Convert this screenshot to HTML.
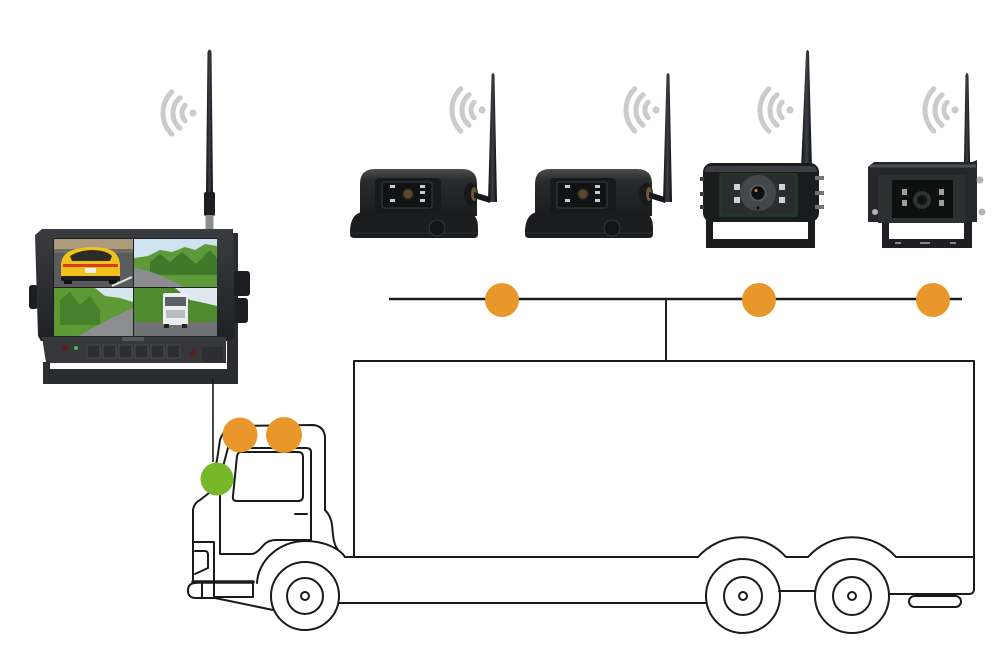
<!DOCTYPE html>
<html><head><meta charset="utf-8">
<style>
html,body{margin:0;padding:0;background:#fff;width:1000px;height:666px;overflow:hidden;}
svg{display:block;}
</style></head>
<body>
<svg width="1000" height="666" viewBox="0 0 1000 666" xmlns="http://www.w3.org/2000/svg">
<defs>
 <linearGradient id="ant" x1="0" x2="1" y1="0" y2="0">
  <stop offset="0" stop-color="#0c0d0f"/><stop offset="0.5" stop-color="#3c4046"/><stop offset="1" stop-color="#0c0d0f"/>
 </linearGradient>
 <linearGradient id="body" x1="0" x2="0" y1="0" y2="1">
  <stop offset="0" stop-color="#3a3c40"/><stop offset="1" stop-color="#1f2023"/>
 </linearGradient>
 <linearGradient id="head" x1="0" x2="0" y1="0" y2="1">
  <stop offset="0" stop-color="#4a4c4f"/><stop offset="0.25" stop-color="#2a2b2d"/><stop offset="1" stop-color="#1b1c1e"/>
 </linearGradient>
 <g id="wifi" fill="none" stroke="#cbcbcb" stroke-width="5" stroke-linecap="round">
  <circle cx="0" cy="0" r="3.6" fill="#cbcbcb" stroke="none"/>
  <path d="M-7.8,-7.8 A11,11 0 0 0 -7.8,7.8"/>
  <path d="M-12.9,-15.3 A20,20 0 0 0 -12.9,15.3"/>
  <path d="M-21.2,-21.2 A30,30 0 0 0 -21.2,21.2"/>
 </g>
 <g id="cam1">
  <path d="M350,230 Q351,214 362,212 H468 Q478,214 478,228 V234 Q478,238 474,238 H354 Q350,238 350,234 Z" fill="#1c1d1f"/>
  <path d="M350,233 H478" stroke="#2e2f32" stroke-width="1"/>
  <path d="M360,216 V184 Q360,169 375,169 H462 Q477,169 477,184 V216 Z" fill="url(#head)"/>
  <rect x="375" y="178" width="66" height="36" rx="4" fill="#18191a"/>
  <rect x="382" y="182" width="50" height="26" rx="2" fill="#111213" stroke="#3c3d3f" stroke-width="1"/>
  <circle cx="408" cy="194" r="5" fill="#5c4828" stroke="#2a2a2a" stroke-width="1.2"/>
  <rect x="390" y="185" width="5" height="3" fill="#c9cbcd"/>
  <rect x="390" y="199" width="5" height="3" fill="#c9cbcd"/>
  <rect x="420" y="185" width="5" height="3" fill="#c9cbcd"/>
  <rect x="420" y="191" width="5" height="3" fill="#c9cbcd"/>
  <rect x="420" y="199" width="5" height="3" fill="#c9cbcd"/>
  <ellipse cx="471" cy="194" rx="7" ry="11" fill="#18191b"/>
  <ellipse cx="474" cy="194" rx="3" ry="7" fill="#6a5a30"/>
  <path d="M474,192 L490,197 L490,203 L474,198 Z" fill="#18191b"/>
  <path d="M491.5,75 Q493,71 494.5,75 L497,202 L488,202 Z" fill="url(#ant)"/>
  <circle cx="437" cy="228" r="8" fill="#141516" stroke="#35363a" stroke-width="1"/>
 </g>
</defs>

<rect width="1000" height="666" fill="#fff"/>

<!-- wifi icons -->
<use href="#wifi" transform="translate(193,113)"/>
<use href="#wifi" transform="translate(482,110)"/>
<use href="#wifi" transform="translate(656,110)"/>
<use href="#wifi" transform="translate(790,110)"/>
<use href="#wifi" transform="translate(955,110)"/>

<!-- cameras 1 & 2 -->
<use href="#cam1"/>
<use href="#cam1" transform="translate(175,0)"/>

<!-- camera 3 -->
<g>
 <path d="M801,170 L806,52 Q807.5,48 809,52 L812,170 Z" fill="url(#ant)"/>
 <path d="M706,212 V248 H815 V212 H808 V239 H713 V212 Z" fill="#1b1c1e"/>
 <rect x="703" y="163" width="116" height="59" rx="9" fill="#1b1c1e"/>
 <path d="M710,166 H812 Q817,166 817,172 H705 Q705,166 710,166 Z" fill="#3c3e41"/>
 <rect x="719" y="173" width="79" height="44" rx="3" fill="#24352a"/>
 <rect x="722" y="176" width="73" height="38" rx="2" fill="#2a2d30"/>
 <circle cx="758" cy="193" r="18" fill="#45484b"/>
 <circle cx="758" cy="193" r="7.5" fill="#0e0f10" stroke="#5a5f63" stroke-width="1.5"/>
 <circle cx="756" cy="190.5" r="1.5" fill="#d08a30"/>
 <circle cx="758" cy="208" r="1.5" fill="#0b0b0b"/>
 <rect x="734" y="184" width="6" height="6" fill="#d0d3d6"/>
 <rect x="734" y="197" width="6" height="6" fill="#d0d3d6"/>
 <rect x="779" y="184" width="6" height="6" fill="#d0d3d6"/>
 <rect x="779" y="197" width="6" height="6" fill="#d0d3d6"/>
 <rect x="815" y="176" width="9" height="4" fill="#707478"/>
 <rect x="815" y="191" width="9" height="4" fill="#707478"/>
 <rect x="815" y="205" width="9" height="4" fill="#707478"/>
 <rect x="700" y="177" width="4" height="4" fill="#3a3c3f"/>
 <rect x="700" y="192" width="4" height="4" fill="#3a3c3f"/>
 <rect x="700" y="205" width="4" height="4" fill="#3a3c3f"/>
</g>

<!-- camera 4 -->
<g>
 <path d="M964,162 L965.5,75 Q967,71 968.5,75 L970,162 Z" fill="url(#ant)"/>
 <path d="M882,214 V248 H972 V214 H964 V239 H889 V214 Z" fill="#1e1f22"/>
 <rect x="895" y="242" width="6" height="2" fill="#888"/>
 <rect x="920" y="242" width="10" height="2" fill="#888"/>
 <rect x="950" y="242" width="6" height="2" fill="#888"/>
 <path d="M868,167 L874,162 H972 L977,160 V222 H868 Z" fill="#26272a"/>
 <path d="M870,166 H976" stroke="#4c4e51" stroke-width="3"/>
 <rect x="878" y="175" width="87" height="48" fill="#2e2f31"/>
 <rect x="892" y="180" width="61" height="38" fill="#0e0f0f"/>
 <circle cx="922" cy="200" r="9" fill="#2f3431"/>
 <circle cx="922" cy="200" r="5" fill="#121413"/>
 <rect x="902" y="189" width="5" height="6" fill="#9a9ea2"/>
 <rect x="902" y="200" width="5" height="6" fill="#9a9ea2"/>
 <rect x="939" y="189" width="5" height="6" fill="#9a9ea2"/>
 <rect x="939" y="200" width="5" height="6" fill="#9a9ea2"/>
 <circle cx="980" cy="180" r="3.5" fill="#b0b4b8"/>
 <circle cx="982" cy="212" r="3.5" fill="#b0b4b8"/>
 <circle cx="875" cy="212" r="3" fill="#b0b4b8"/>
</g>

<!-- monitor -->
<g>
 <path d="M207.5,52 Q209.5,47 211.5,52 L213,193 L206,193 Z" fill="url(#ant)"/>
 <rect x="204" y="192" width="11" height="24" rx="2" fill="#1c1e21"/>
 <rect x="205.5" y="215" width="8" height="15" fill="#8c8e90"/>
 <rect x="227" y="233" width="11" height="150" fill="#2a2c2f"/>
 <rect x="233" y="271" width="17" height="25" rx="3" fill="#1c1e21"/>
 <rect x="233" y="298" width="15" height="25" rx="3" fill="#1c1e21"/>
 <rect x="29" y="285" width="9" height="24" rx="3" fill="#1c1e21"/>
 <path d="M35,235 L42,229 H233 L235,336 L230,341 H41 L38,336 Z" fill="url(#body)"/>
 <path d="M42,337 H226 V363 H46 Z" fill="#35373a"/>
 <path d="M43,362 V384 H238 V369 H50 V362 Z" fill="#2a2c2f"/>
 <rect x="53" y="238" width="164" height="98" fill="#1e1e1e"/>
 <!-- TL -->
 <rect x="54" y="239" width="79" height="48" fill="#5a5b5d"/>
 <rect x="54" y="239" width="79" height="10" fill="#ab9a7c"/>
 <rect x="54" y="249" width="79" height="4" fill="#6f6b63"/>
 <path d="M61,264 Q62,255 70,251 Q80,247 92,247 Q108,247 114,252 Q119,256 120,264 V278 H61 Z" fill="#f2c21a"/>
 <path d="M70,256 Q80,250 92,250 Q106,250 112,256 L110,261 H72 Z" fill="#2e2c26"/>
 <rect x="63" y="264" width="55" height="3" fill="#d83a1c"/>
 <rect x="85" y="268" width="11" height="5" fill="#eee"/>
 <rect x="61" y="276" width="59" height="5" rx="1" fill="#1e1e1e"/>
 <rect x="64" y="280" width="8" height="4" fill="#111"/>
 <rect x="109" y="280" width="8" height="4" fill="#111"/>
 <path d="M112,286 L132,277" stroke="#e6e6e6" stroke-width="2"/>
 <!-- TR -->
 <rect x="134" y="239" width="83" height="48" fill="#5e9a3a"/>
 <path d="M134,239 H217 V246 L205,244 L195,250 L185,247 L172,252 L160,250 L148,256 L134,258 Z" fill="#cfe2f0"/>
 <path d="M150,262 L160,254 L170,262 L182,252 L196,264 L210,250 L217,258 V275 H150 Z" fill="#3f7a2a"/>
 <path d="M134,268 Q150,270 168,279 L185,287 H134 Z" fill="#8a8c8f"/>
 <!-- BL -->
 <rect x="54" y="288" width="79" height="48" fill="#5d9a35"/>
 <path d="M95,288 H133 V302 L120,298 L105,296 Z" fill="#d5e6f0"/>
 <path d="M60,300 L70,292 L80,305 L90,296 L100,310 V325 H60 Z" fill="#46822b"/>
 <path d="M78,336 Q110,318 133,308 V336 Z" fill="#8c8e90"/>
 <!-- BR -->
 <rect x="134" y="288" width="83" height="48" fill="#4f8a30"/>
 <path d="M175,288 H217 V306 L200,302 L190,300 Z" fill="#dfe8ee"/>
 <rect x="134" y="322" width="83" height="14" fill="#6f7174"/>
 <rect x="163" y="293" width="25" height="32" rx="2" fill="#eceeef"/>
 <rect x="165" y="297" width="21" height="9" fill="#5a6066"/>
 <rect x="166" y="310" width="19" height="8" fill="#b8bcc0"/>
 <rect x="164" y="324" width="5" height="4" fill="#222"/>
 <rect x="182" y="324" width="5" height="4" fill="#222"/>
 <!-- panel details -->
 <rect x="122" y="337" width="22" height="4" rx="1" fill="#55575a"/>
 <circle cx="65" cy="348" r="3" fill="#5a1f1f"/>
 <circle cx="76" cy="348" r="2" fill="#3cc04a"/>
 <g fill="#2b2d30" stroke="#505256" stroke-width="0.8">
  <rect x="87" y="345" width="13" height="13"/>
  <rect x="103" y="345" width="13" height="13"/>
  <rect x="119" y="345" width="13" height="13"/>
  <rect x="135" y="345" width="13" height="13"/>
  <rect x="151" y="345" width="13" height="13"/>
  <rect x="167" y="345" width="13" height="13"/>
 </g>
 <circle cx="193" cy="353" r="3.2" fill="#5a1f1f"/>
 <rect x="202" y="347" width="21" height="15" fill="#2c2e31"/>
</g>
<!-- monitor cable -->
<path d="M213,378 V462" stroke="#1a1a1a" stroke-width="1.6" fill="none"/>

<!-- network line -->
<g stroke="#1c1c1c" stroke-width="2.5" fill="none">
 <path d="M389,299 H962"/>
 <path d="M666,299 V361" stroke-width="2"/>
</g>

<!-- truck -->
<g stroke="#1a1a1a" stroke-width="2" fill="none" stroke-linejoin="round" stroke-linecap="round">
 <path d="M354,557 V361 H974 V589 Q974,594 969,594 H889"/>
 <path d="M345,557 H698 A59,59 0 0 1 786,557 H808 A59,59 0 0 1 896,557 H974"/>
 <path d="M339,603 H706"/>
 <path d="M779,591 H815"/>
 <circle cx="743" cy="596" r="37"/>
 <circle cx="743" cy="596" r="19"/>
 <circle cx="743" cy="596" r="4"/>
 <circle cx="852" cy="596" r="37"/>
 <circle cx="852" cy="596" r="19"/>
 <circle cx="852" cy="596" r="4"/>
 <rect x="909" y="596" width="52" height="11" rx="5.5"/>
 <circle cx="305" cy="596" r="34"/>
 <circle cx="305" cy="596" r="18"/>
 <circle cx="305" cy="596" r="4"/>
 <path d="M257,583 C258,560 280,541 305,541 C325,541 340,549 345,557"/>
 <!-- cab outline -->
 <path d="M193,582 V510 Q194,503 200,500 L209,493 L217,460 L220,440 Q224,428 234,426 L313,425 Q324,426 325,437 V510 Q331,516 332,525 L333,535 Q334,545 338,550"/>
 <!-- inner pillar / door -->
 <path d="M229,444 L220,478 V554 H252 C258,553 262,546 266,543 Q270,540 276,540 H311 V452 Q311,448 306,448 H232 Q229,448 229,444"/>
 <!-- window -->
 <path d="M241,452 H298 Q303,452 303,457 V496 Q303,501 298,501 H237 Q232,501 233,496 L237,456 Q238,452 241,452 Z"/>
 <path d="M295,514 H307"/>
 <!-- front panel -->
 <path d="M193,542 H214 V598"/>
 <path d="M195,551 H205 Q208,551 208,555 V568 L195,574"/>
 <path d="M253,582 V597 H215"/>
 <path d="M196,583 Q188,583 188,590.5 Q188,598 196,598 H215 L273,610"/>
 <path d="M202,584 V598"/>
 <path d="M193,582 H253" stroke-width="3.5"/>
</g>

<!-- markers -->
<g fill="#e8972a">
 <circle cx="502" cy="300" r="17"/>
 <circle cx="759" cy="300" r="17"/>
 <circle cx="933" cy="300" r="17"/>
 <circle cx="240" cy="435" r="17.5"/>
 <circle cx="284" cy="435" r="18"/>
</g>
<circle cx="217" cy="479" r="16.5" fill="#76b82a"/>
</svg>
</body></html>
